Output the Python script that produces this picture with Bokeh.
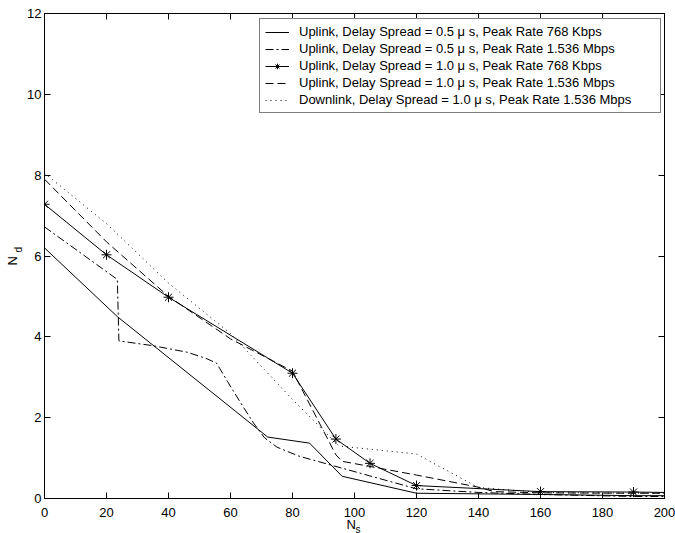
from bokeh.plotting import figure
from bokeh.models import (LinearAxis, Legend, LegendItem, Title, FixedTicker,
                          Range1d)
from bokeh.embed import file_html
from bokeh.resources import INLINE

# ---------------- data ----------------
x_ticks = [0, 20, 40, 60, 80, 100, 120, 140, 160, 180, 200]
y_ticks = [0, 2, 4, 6, 8, 10, 12]

labels = [
    "Uplink, Delay Spread = 0.5 \u03bc s, Peak Rate 768 Kbps",
    "Uplink, Delay Spread = 0.5 \u03bc s, Peak Rate 1.536 Mbps",
    "Uplink, Delay Spread = 1.0 \u03bc s, Peak Rate 768 Kbps",
    "Uplink, Delay Spread = 1.0 \u03bc s, Peak Rate 1.536 Mbps",
    "Downlink, Delay Spread = 1.0 \u03bc s, Peak Rate 1.536 Mbps",
]

up05_768_x = [0, 23.5, 72, 85.5, 96, 120, 160, 190, 200]
up05_768_y = [6.2, 4.5, 1.52, 1.37, 0.55, 0.13, 0.10, 0.07, 0.07]

up05_1536_x = [0, 23.5, 24, 35, 46, 52, 55.5, 59, 63, 67.5, 71, 75, 82, 96,
               120, 140, 160, 190, 200]
up05_1536_y = [6.72, 5.42, 3.9, 3.78, 3.62, 3.47, 3.35, 2.9, 2.4, 1.86, 1.5,
               1.27, 1.05, 0.75, 0.24, 0.15, 0.10, 0.05, 0.05]

up10_768_x = [0, 20, 40, 80, 94, 105, 120, 160, 190, 200]
up10_768_y = [7.28, 6.03, 4.98, 3.1, 1.47, 0.87, 0.32, 0.17, 0.16, 0.15]

up10_1536_x = [0, 20, 40, 60, 80, 94, 96, 120, 140, 145, 160, 190, 200]
up10_1536_y = [7.9, 6.35, 5.0, 3.95, 3.15, 1.08, 0.92, 0.58, 0.28, 0.17,
               0.14, 0.13, 0.13]

down10_1536_x = [0, 20, 40, 60, 80, 95, 120, 140, 160, 190, 200]
down10_1536_y = [8.05, 6.8, 5.33, 4.08, 2.45, 1.3, 1.1, 0.27, 0.15, 0.13, 0.13]

FONT = "Liberation Sans"

p = figure(width=675, height=533, x_range=Range1d(0, 200),
           y_range=Range1d(0, 12), output_backend="svg",
           toolbar_location=None, min_border_left=44, min_border_right=11,
           min_border_top=13, min_border_bottom=35)
p.xgrid.visible = False
p.ygrid.visible = False
p.outline_line_color = "black"
p.background_fill_color = "white"
p.border_fill_color = "white"


def style(ax, ticks, show_labels, standoff):
    ax.ticker = FixedTicker(ticks=ticks)
    ax.major_tick_in = 6
    ax.major_tick_out = 0
    ax.minor_tick_in = 0
    ax.minor_tick_out = 0
    ax.axis_line_color = "black"
    ax.major_tick_line_color = "black"
    ax.major_label_text_font = FONT
    if show_labels:
        ax.major_label_text_color = "black"
        ax.major_label_text_font_size = "13px"
        ax.major_label_standoff = standoff
    else:
        ax.major_label_text_color = None
        ax.major_label_text_font_size = "0px"
        ax.major_label_standoff = 0


style(p.xaxis[0], x_ticks, True, 9)
style(p.yaxis[0], y_ticks, True, 3)
top_ax = LinearAxis()
right_ax = LinearAxis()
style(top_ax, x_ticks, False, 0)
style(right_ax, y_ticks, False, 0)
p.add_layout(top_ax, "above")
p.add_layout(right_ax, "right")

r1 = p.line(up05_768_x, up05_768_y, line_color="black", line_width=1)
r2 = p.line(up05_1536_x, up05_1536_y, line_color="black", line_width=1,
            line_dash="8 3 2 3")
r3 = p.line(up10_768_x, up10_768_y, line_color="black", line_width=1)
r3m = p.scatter(up10_768_x[:-1], up10_768_y[:-1], marker="asterisk", size=10,
                line_color="black", line_width=1)
r4 = p.line(up10_1536_x, up10_1536_y, line_color="black", line_width=1,
            line_dash="8 4")
r5 = p.line(down10_1536_x, down10_1536_y, line_color="black", line_width=1,
            line_dash="1 4")

legend = Legend(items=[
    LegendItem(label=labels[0], renderers=[r1]),
    LegendItem(label=labels[1], renderers=[r2]),
    LegendItem(label=labels[2], renderers=[r3, r3m]),
    LegendItem(label=labels[3], renderers=[r4]),
    LegendItem(label=labels[4], renderers=[r5]),
], location=(215, 385))
legend.margin = 0
legend.padding = 5
legend.spacing = 2
legend.glyph_width = 24
legend.glyph_height = 14
legend.label_height = 14
legend.label_width = 356
legend.label_standoff = 10
legend.label_text_font = FONT
legend.label_text_font_size = "13px"
legend.label_text_color = "black"
legend.border_line_color = "black"
legend.border_line_width = 1
legend.background_fill_alpha = 1.0
p.add_layout(legend)

# axis titles with subscripts (inner first, outer second)
p.add_layout(Title(text="d", align="left", offset=246, standoff=-1,
                   vertical_align="middle",
                   text_font=FONT, text_font_size="10px",
                   text_font_style="normal", text_color="black"), "left")
p.add_layout(Title(text="N", align="left", offset=233, standoff=-18,
                   vertical_align="middle",
                   text_font=FONT, text_font_size="13px",
                   text_font_style="normal", text_color="black"), "left")
p.add_layout(Title(text="N", align="left", offset=302, standoff=-9,
                   text_font=FONT, text_font_size="13px",
                   text_font_style="normal", text_color="black"), "below")
p.add_layout(Title(text="s", align="left", offset=311, standoff=-11,
                   text_font=FONT, text_font_size="10px",
                   text_font_style="normal", text_color="black"), "below")

open("out.html", "w").write(file_html(p, INLINE))
